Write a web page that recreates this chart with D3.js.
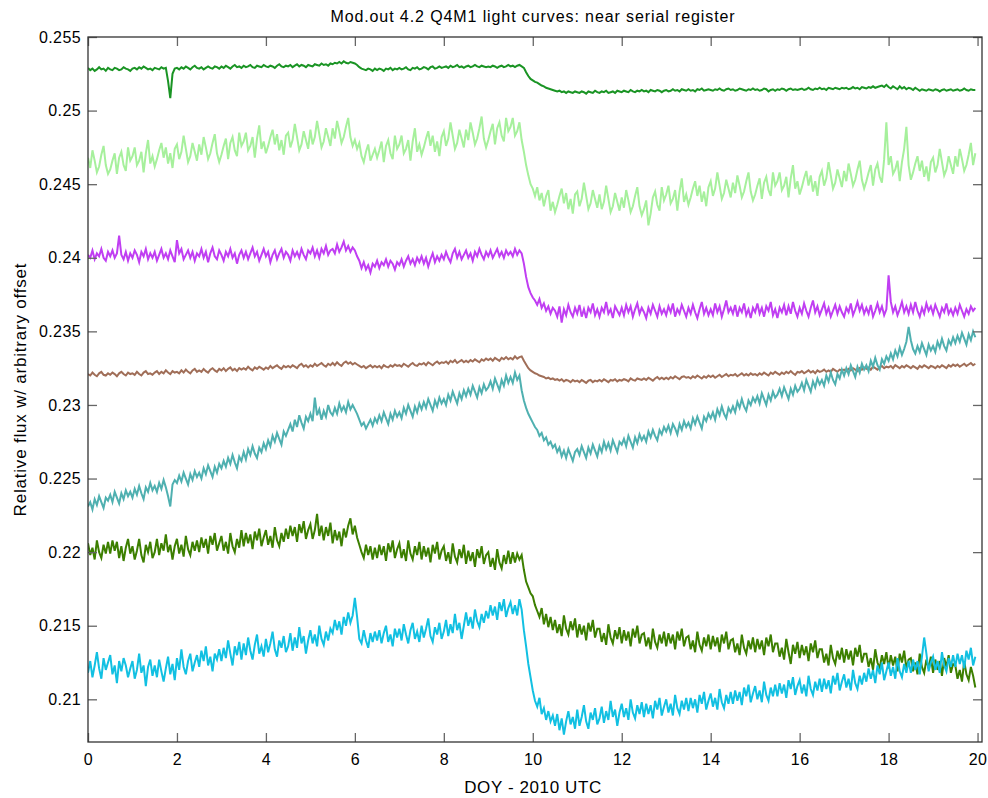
<!DOCTYPE html>
<html>
<head>
<meta charset="utf-8">
<script src="https://cdn.jsdelivr.net/npm/d3@7"></script>
<style>
  html, body { margin: 0; padding: 0; background: #fff; }
  svg { display: block; font-family: "Liberation Sans", Arial, sans-serif; }
</style>
</head>
<body>
<svg id="chart" width="988" height="798"></svg>
<script>
// Sample times, day of year 2010 (0.05-day cadence)
const doy = d3.range(400).map(i => i * 0.05);

const xTicks = [0, 2, 4, 6, 8, 10, 12, 14, 16, 18, 20];
const yTicks = [0.21, 0.215, 0.22, 0.225, 0.23, 0.235, 0.24, 0.245, 0.25, 0.255];
const yTickLabels = ["0.21", "0.215", "0.22", "0.225", "0.23", "0.235", "0.24", "0.245", "0.25", "0.255"];

const seriesColors = ["#1a9424", "#a6f09c", "#c03ef2", "#a06e58", "#4fb0b0", "#3c7f00", "#12c0e2"];

// Relative flux of each light curve, with arbitrary offsets (one row = half a day)
const fluxA = [
  0.25290,0.25275,0.25285,0.25270,0.25280,0.25295,0.25280,0.25285,0.25270,0.25290,
  0.25280,0.25275,0.25290,0.25285,0.25275,0.25280,0.25295,0.25285,0.25280,0.25270,
  0.25285,0.25290,0.25280,0.25295,0.25285,0.25300,0.25290,0.25280,0.25285,0.25275,
  0.25290,0.25285,0.25280,0.25295,0.25285,0.25290,0.25200,0.25085,0.25250,0.25285,
  0.25290,0.25280,0.25295,0.25285,0.25300,0.25290,0.25280,0.25295,0.25305,0.25290,
  0.25285,0.25295,0.25280,0.25290,0.25300,0.25290,0.25285,0.25300,0.25295,0.25285,
  0.25300,0.25290,0.25305,0.25295,0.25285,0.25300,0.25310,0.25295,0.25300,0.25290,
  0.25305,0.25295,0.25300,0.25310,0.25295,0.25290,0.25305,0.25300,0.25295,0.25310,
  0.25300,0.25295,0.25305,0.25300,0.25290,0.25305,0.25315,0.25300,0.25295,0.25305,
  0.25300,0.25310,0.25295,0.25305,0.25315,0.25300,0.25310,0.25305,0.25295,0.25310,
  0.25305,0.25300,0.25315,0.25310,0.25305,0.25320,0.25310,0.25315,0.25305,0.25320,
  0.25315,0.25325,0.25320,0.25330,0.25320,0.25335,0.25325,0.25320,0.25330,0.25325,
  0.25320,0.25310,0.25295,0.25285,0.25280,0.25275,0.25285,0.25280,0.25270,0.25285,
  0.25275,0.25285,0.25280,0.25270,0.25285,0.25280,0.25290,0.25275,0.25285,0.25280,
  0.25290,0.25280,0.25285,0.25295,0.25280,0.25275,0.25290,0.25285,0.25295,0.25280,
  0.25285,0.25295,0.25290,0.25280,0.25295,0.25300,0.25285,0.25290,0.25300,0.25290,
  0.25295,0.25300,0.25290,0.25305,0.25295,0.25300,0.25310,0.25295,0.25300,0.25290,
  0.25300,0.25305,0.25295,0.25300,0.25310,0.25300,0.25295,0.25305,0.25300,0.25295,
  0.25300,0.25295,0.25305,0.25300,0.25290,0.25300,0.25305,0.25295,0.25300,0.25310,
  0.25300,0.25305,0.25295,0.25305,0.25310,0.25300,0.25290,0.25260,0.25235,0.25215,
  0.25205,0.25195,0.25190,0.25180,0.25170,0.25165,0.25155,0.25150,0.25145,0.25140,
  0.25135,0.25130,0.25135,0.25125,0.25130,0.25120,0.25130,0.25125,0.25120,0.25130,
  0.25125,0.25120,0.25130,0.25125,0.25115,0.25130,0.25125,0.25120,0.25135,0.25125,
  0.25120,0.25130,0.25125,0.25135,0.25120,0.25125,0.25130,0.25120,0.25135,0.25130,
  0.25125,0.25135,0.25130,0.25125,0.25140,0.25130,0.25125,0.25135,0.25130,0.25140,
  0.25130,0.25135,0.25125,0.25140,0.25135,0.25130,0.25140,0.25135,0.25125,0.25135,
  0.25140,0.25130,0.25135,0.25145,0.25135,0.25140,0.25130,0.25145,0.25140,0.25135,
  0.25145,0.25135,0.25140,0.25130,0.25145,0.25140,0.25150,0.25135,0.25140,0.25145,
  0.25140,0.25135,0.25145,0.25140,0.25150,0.25140,0.25135,0.25145,0.25150,0.25140,
  0.25145,0.25135,0.25140,0.25150,0.25145,0.25140,0.25135,0.25145,0.25140,0.25150,
  0.25140,0.25145,0.25135,0.25140,0.25150,0.25145,0.25130,0.25140,0.25145,0.25135,
  0.25145,0.25140,0.25150,0.25145,0.25135,0.25145,0.25150,0.25140,0.25145,0.25140,
  0.25145,0.25150,0.25140,0.25145,0.25155,0.25145,0.25140,0.25150,0.25145,0.25155,
  0.25145,0.25150,0.25140,0.25155,0.25150,0.25145,0.25155,0.25150,0.25145,0.25155,
  0.25150,0.25155,0.25145,0.25150,0.25160,0.25150,0.25155,0.25145,0.25160,0.25155,
  0.25150,0.25160,0.25155,0.25165,0.25155,0.25160,0.25165,0.25170,0.25160,0.25175,
  0.25160,0.25150,0.25165,0.25155,0.25145,0.25165,0.25150,0.25160,0.25145,0.25155,
  0.25150,0.25140,0.25155,0.25145,0.25135,0.25145,0.25140,0.25135,0.25145,0.25140,
  0.25135,0.25145,0.25140,0.25130,0.25140,0.25145,0.25135,0.25140,0.25145,0.25135,
  0.25140,0.25145,0.25135,0.25140,0.25150,0.25140,0.25135,0.25145,0.25140,0.25140
];

const fluxB = [
  0.24680,0.24610,0.24730,0.24660,0.24580,0.24620,0.24700,0.24760,0.24630,0.24570,
  0.24600,0.24660,0.24710,0.24570,0.24680,0.24720,0.24630,0.24590,0.24750,0.24660,
  0.24690,0.24750,0.24630,0.24660,0.24720,0.24580,0.24710,0.24800,0.24640,0.24690,
  0.24620,0.24670,0.24730,0.24780,0.24680,0.24750,0.24640,0.24710,0.24610,0.24740,
  0.24770,0.24670,0.24720,0.24830,0.24740,0.24650,0.24690,0.24780,0.24720,0.24660,
  0.24770,0.24700,0.24820,0.24750,0.24670,0.24710,0.24780,0.24840,0.24710,0.24650,
  0.24700,0.24760,0.24810,0.24670,0.24780,0.24820,0.24730,0.24690,0.24850,0.24760,
  0.24790,0.24850,0.24730,0.24760,0.24820,0.24680,0.24810,0.24900,0.24740,0.24790,
  0.24710,0.24760,0.24820,0.24870,0.24770,0.24840,0.24730,0.24800,0.24700,0.24830,
  0.24850,0.24750,0.24800,0.24910,0.24820,0.24730,0.24770,0.24860,0.24800,0.24740,
  0.24870,0.24770,0.24820,0.24930,0.24840,0.24750,0.24790,0.24880,0.24820,0.24760,
  0.24880,0.24810,0.24930,0.24860,0.24780,0.24820,0.24890,0.24950,0.24820,0.24760,
  0.24800,0.24740,0.24780,0.24690,0.24650,0.24720,0.24770,0.24660,0.24700,0.24740,
  0.24680,0.24730,0.24790,0.24650,0.24760,0.24800,0.24710,0.24670,0.24830,0.24740,
  0.24770,0.24830,0.24710,0.24740,0.24800,0.24660,0.24790,0.24880,0.24720,0.24770,
  0.24700,0.24750,0.24810,0.24860,0.24760,0.24830,0.24720,0.24790,0.24690,0.24820,
  0.24860,0.24760,0.24810,0.24920,0.24830,0.24740,0.24780,0.24870,0.24810,0.24750,
  0.24870,0.24800,0.24920,0.24850,0.24770,0.24810,0.24880,0.24960,0.24810,0.24750,
  0.24800,0.24860,0.24910,0.24770,0.24880,0.24920,0.24830,0.24790,0.24950,0.24860,
  0.24890,0.24950,0.24830,0.24860,0.24920,0.24800,0.24720,0.24630,0.24560,0.24500,
  0.24470,0.24420,0.24480,0.24390,0.24440,0.24350,0.24420,0.24460,0.24320,0.24380,
  0.24310,0.24360,0.24420,0.24470,0.24370,0.24440,0.24330,0.24400,0.24300,0.24430,
  0.24450,0.24350,0.24400,0.24510,0.24420,0.24330,0.24370,0.24460,0.24400,0.24340,
  0.24430,0.24330,0.24380,0.24490,0.24400,0.24310,0.24350,0.24440,0.24380,0.24320,
  0.24410,0.24340,0.24460,0.24390,0.24310,0.24350,0.24420,0.24480,0.24350,0.24290,
  0.24330,0.24390,0.24220,0.24300,0.24410,0.24450,0.24360,0.24320,0.24480,0.24390,
  0.24430,0.24490,0.24370,0.24400,0.24460,0.24320,0.24450,0.24540,0.24380,0.24430,
  0.24360,0.24410,0.24470,0.24520,0.24420,0.24490,0.24380,0.24450,0.24350,0.24480,
  0.24520,0.24420,0.24470,0.24580,0.24490,0.24400,0.24440,0.24530,0.24470,0.24410,
  0.24510,0.24440,0.24560,0.24490,0.24410,0.24450,0.24520,0.24580,0.24450,0.24390,
  0.24430,0.24490,0.24540,0.24400,0.24510,0.24550,0.24460,0.24420,0.24580,0.24490,
  0.24520,0.24580,0.24460,0.24490,0.24550,0.24410,0.24540,0.24630,0.24470,0.24520,
  0.24430,0.24480,0.24540,0.24590,0.24490,0.24560,0.24450,0.24520,0.24420,0.24550,
  0.24590,0.24490,0.24540,0.24650,0.24560,0.24470,0.24510,0.24600,0.24540,0.24480,
  0.24590,0.24520,0.24640,0.24570,0.24490,0.24530,0.24600,0.24660,0.24530,0.24470,
  0.24520,0.24580,0.24630,0.24490,0.24600,0.24640,0.24550,0.24510,0.24670,0.24920,
  0.24630,0.24690,0.24570,0.24600,0.24660,0.24520,0.24650,0.24740,0.24890,0.24630,
  0.24530,0.24580,0.24640,0.24690,0.24590,0.24660,0.24550,0.24620,0.24520,0.24650,
  0.24680,0.24580,0.24630,0.24740,0.24650,0.24560,0.24600,0.24690,0.24630,0.24570,
  0.24690,0.24620,0.24740,0.24670,0.24590,0.24630,0.24700,0.24780,0.24630,0.24710
];

const fluxC = [
  0.24020,0.24000,0.24050,0.23990,0.24030,0.24010,0.24060,0.24000,0.23980,0.24040,
  0.24010,0.24050,0.24000,0.24030,0.24150,0.24020,0.23990,0.24040,0.23980,0.24030,
  0.24000,0.24050,0.24020,0.23970,0.24040,0.24010,0.24060,0.23990,0.24030,0.24000,
  0.24040,0.23980,0.24020,0.24060,0.24000,0.24030,0.23990,0.24050,0.24010,0.23970,
  0.24120,0.24030,0.24060,0.23990,0.24020,0.24050,0.24000,0.24040,0.23980,0.24030,
  0.24010,0.24060,0.24000,0.24040,0.23970,0.24030,0.24070,0.24010,0.23990,0.24050,
  0.24020,0.23980,0.24040,0.24010,0.24060,0.24000,0.24030,0.23960,0.24020,0.24050,
  0.24000,0.24040,0.23990,0.24030,0.24070,0.24010,0.24040,0.23980,0.24020,0.24060,
  0.24010,0.24040,0.23970,0.24020,0.24050,0.23990,0.24030,0.24060,0.24000,0.24040,
  0.24020,0.23980,0.24050,0.24010,0.24040,0.24000,0.24060,0.24020,0.23990,0.24050,
  0.24030,0.24070,0.24010,0.24050,0.24000,0.24060,0.24030,0.24080,0.24020,0.24050,
  0.24060,0.24030,0.24090,0.24040,0.24070,0.24110,0.24050,0.24080,0.24040,0.24070,
  0.24050,0.24010,0.23980,0.23930,0.23970,0.23920,0.23950,0.23900,0.23960,0.23940,
  0.23980,0.23930,0.23970,0.23950,0.23990,0.23940,0.23980,0.23960,0.23920,0.23970,
  0.23950,0.23990,0.23940,0.23980,0.24010,0.23960,0.23990,0.23950,0.24000,0.23970,
  0.24010,0.23960,0.24000,0.23940,0.23990,0.24030,0.23970,0.24010,0.23980,0.24020,
  0.23990,0.24040,0.24000,0.23970,0.24030,0.24060,0.24000,0.24040,0.23990,0.24020,
  0.24050,0.24000,0.24030,0.23980,0.24040,0.24010,0.24060,0.24020,0.23990,0.24040,
  0.24010,0.24050,0.24000,0.24030,0.24060,0.24010,0.24040,0.24000,0.24050,0.24020,
  0.24040,0.24010,0.24060,0.24020,0.24050,0.24030,0.23960,0.23870,0.23800,0.23760,
  0.23730,0.23710,0.23680,0.23720,0.23660,0.23690,0.23640,0.23670,0.23620,0.23660,
  0.23640,0.23600,0.23670,0.23560,0.23650,0.23610,0.23680,0.23630,0.23600,0.23660,
  0.23620,0.23680,0.23600,0.23650,0.23590,0.23660,0.23630,0.23690,0.23610,0.23650,
  0.23600,0.23660,0.23630,0.23700,0.23620,0.23650,0.23590,0.23670,0.23640,0.23610,
  0.23660,0.23610,0.23680,0.23630,0.23670,0.23600,0.23650,0.23690,0.23620,0.23660,
  0.23630,0.23590,0.23660,0.23620,0.23680,0.23640,0.23600,0.23670,0.23620,0.23650,
  0.23610,0.23670,0.23630,0.23690,0.23600,0.23650,0.23620,0.23680,0.23640,0.23600,
  0.23660,0.23620,0.23680,0.23630,0.23590,0.23650,0.23700,0.23620,0.23660,0.23610,
  0.23650,0.23610,0.23690,0.23630,0.23670,0.23600,0.23650,0.23710,0.23630,0.23660,
  0.23620,0.23680,0.23600,0.23660,0.23630,0.23690,0.23610,0.23650,0.23590,0.23660,
  0.23630,0.23690,0.23620,0.23660,0.23600,0.23670,0.23640,0.23700,0.23610,0.23650,
  0.23590,0.23660,0.23630,0.23680,0.23610,0.23670,0.23620,0.23700,0.23640,0.23600,
  0.23660,0.23620,0.23690,0.23640,0.23600,0.23660,0.23710,0.23630,0.23670,0.23610,
  0.23650,0.23690,0.23620,0.23660,0.23600,0.23640,0.23680,0.23620,0.23670,0.23630,
  0.23600,0.23660,0.23630,0.23690,0.23610,0.23650,0.23700,0.23640,0.23680,0.23620,
  0.23660,0.23620,0.23680,0.23600,0.23640,0.23690,0.23630,0.23670,0.23610,0.23650,
  0.23880,0.23700,0.23630,0.23670,0.23610,0.23650,0.23700,0.23630,0.23670,0.23620,
  0.23680,0.23630,0.23700,0.23640,0.23600,0.23660,0.23620,0.23690,0.23640,0.23670,
  0.23620,0.23680,0.23640,0.23600,0.23660,0.23630,0.23690,0.23620,0.23650,0.23610,
  0.23660,0.23620,0.23680,0.23640,0.23600,0.23650,0.23620,0.23670,0.23640,0.23660
];

const fluxD = [
  0.23210,0.23200,0.23220,0.23205,0.23195,0.23215,0.23225,0.23205,0.23200,0.23215,
  0.23205,0.23220,0.23210,0.23195,0.23215,0.23225,0.23210,0.23200,0.23220,0.23210,
  0.23215,0.23205,0.23225,0.23210,0.23200,0.23220,0.23230,0.23210,0.23215,0.23205,
  0.23220,0.23230,0.23210,0.23225,0.23215,0.23235,0.23220,0.23210,0.23230,0.23220,
  0.23225,0.23215,0.23235,0.23220,0.23240,0.23225,0.23215,0.23235,0.23245,0.23225,
  0.23235,0.23225,0.23245,0.23230,0.23220,0.23240,0.23250,0.23235,0.23225,0.23245,
  0.23235,0.23250,0.23230,0.23245,0.23255,0.23235,0.23245,0.23230,0.23250,0.23240,
  0.23250,0.23240,0.23260,0.23245,0.23235,0.23255,0.23245,0.23260,0.23250,0.23240,
  0.23255,0.23245,0.23265,0.23250,0.23260,0.23270,0.23255,0.23245,0.23265,0.23255,
  0.23265,0.23255,0.23270,0.23260,0.23250,0.23270,0.23280,0.23260,0.23270,0.23255,
  0.23270,0.23260,0.23280,0.23265,0.23275,0.23285,0.23270,0.23260,0.23280,0.23270,
  0.23285,0.23270,0.23290,0.23275,0.23265,0.23285,0.23295,0.23280,0.23290,0.23275,
  0.23285,0.23275,0.23265,0.23255,0.23265,0.23250,0.23260,0.23270,0.23255,0.23265,
  0.23255,0.23265,0.23250,0.23270,0.23260,0.23255,0.23270,0.23260,0.23275,0.23265,
  0.23270,0.23260,0.23280,0.23270,0.23260,0.23275,0.23285,0.23270,0.23265,0.23280,
  0.23275,0.23285,0.23270,0.23290,0.23280,0.23270,0.23285,0.23295,0.23280,0.23290,
  0.23285,0.23295,0.23280,0.23300,0.23290,0.23305,0.23285,0.23295,0.23305,0.23290,
  0.23300,0.23290,0.23305,0.23295,0.23310,0.23300,0.23290,0.23310,0.23300,0.23315,
  0.23305,0.23315,0.23300,0.23320,0.23310,0.23300,0.23320,0.23310,0.23325,0.23310,
  0.23320,0.23310,0.23330,0.23315,0.23325,0.23330,0.23300,0.23275,0.23250,0.23235,
  0.23225,0.23215,0.23210,0.23200,0.23195,0.23190,0.23180,0.23185,0.23175,0.23180,
  0.23170,0.23175,0.23165,0.23175,0.23160,0.23170,0.23165,0.23155,0.23170,0.23160,
  0.23165,0.23155,0.23170,0.23160,0.23150,0.23165,0.23170,0.23155,0.23165,0.23160,
  0.23170,0.23160,0.23175,0.23165,0.23155,0.23170,0.23165,0.23175,0.23160,0.23170,
  0.23165,0.23175,0.23170,0.23160,0.23180,0.23170,0.23165,0.23180,0.23175,0.23170,
  0.23180,0.23170,0.23185,0.23175,0.23165,0.23180,0.23190,0.23175,0.23185,0.23175,
  0.23185,0.23175,0.23190,0.23180,0.23195,0.23185,0.23175,0.23190,0.23195,0.23185,
  0.23190,0.23180,0.23195,0.23185,0.23200,0.23190,0.23180,0.23195,0.23185,0.23200,
  0.23190,0.23200,0.23185,0.23195,0.23205,0.23190,0.23200,0.23210,0.23195,0.23205,
  0.23200,0.23210,0.23195,0.23205,0.23215,0.23200,0.23210,0.23200,0.23215,0.23205,
  0.23210,0.23200,0.23215,0.23205,0.23220,0.23210,0.23200,0.23220,0.23210,0.23225,
  0.23215,0.23205,0.23220,0.23210,0.23225,0.23215,0.23230,0.23215,0.23205,0.23225,
  0.23220,0.23230,0.23215,0.23225,0.23235,0.23220,0.23230,0.23215,0.23235,0.23225,
  0.23230,0.23240,0.23225,0.23235,0.23225,0.23245,0.23235,0.23225,0.23240,0.23235,
  0.23240,0.23230,0.23245,0.23235,0.23250,0.23240,0.23230,0.23250,0.23240,0.23255,
  0.23245,0.23255,0.23240,0.23260,0.23250,0.23240,0.23255,0.23265,0.23250,0.23260,
  0.23255,0.23265,0.23250,0.23270,0.23260,0.23250,0.23265,0.23255,0.23270,0.23260,
  0.23250,0.23265,0.23255,0.23245,0.23265,0.23255,0.23270,0.23260,0.23250,0.23265,
  0.23260,0.23250,0.23265,0.23255,0.23270,0.23260,0.23250,0.23270,0.23260,0.23275,
  0.23265,0.23275,0.23260,0.23270,0.23280,0.23265,0.23275,0.23285,0.23270,0.23280
];

const fluxE = [
  0.22310,0.22340,0.22290,0.22360,0.22320,0.22380,0.22340,0.22300,0.22370,0.22350,
  0.22390,0.22340,0.22410,0.22370,0.22330,0.22400,0.22360,0.22420,0.22380,0.22410,
  0.22370,0.22430,0.22390,0.22450,0.22400,0.22360,0.22440,0.22410,0.22470,0.22420,
  0.22450,0.22410,0.22470,0.22430,0.22490,0.22440,0.22380,0.22310,0.22460,0.22490,
  0.22470,0.22520,0.22480,0.22540,0.22500,0.22460,0.22530,0.22490,0.22550,0.22510,
  0.22540,0.22500,0.22570,0.22530,0.22590,0.22550,0.22510,0.22580,0.22540,0.22600,
  0.22570,0.22620,0.22580,0.22640,0.22600,0.22660,0.22610,0.22570,0.22650,0.22620,
  0.22680,0.22630,0.22700,0.22660,0.22720,0.22670,0.22640,0.22710,0.22680,0.22740,
  0.22700,0.22760,0.22720,0.22790,0.22750,0.22810,0.22770,0.22730,0.22820,0.22790,
  0.22830,0.22870,0.22820,0.22900,0.22850,0.22930,0.22880,0.22840,0.22920,0.22890,
  0.22940,0.22890,0.23050,0.22930,0.22970,0.22900,0.22960,0.22920,0.23000,0.22950,
  0.22930,0.22980,0.22940,0.23010,0.22960,0.22990,0.22950,0.23020,0.22970,0.23000,
  0.22970,0.22940,0.22900,0.22860,0.22880,0.22840,0.22870,0.22900,0.22860,0.22910,
  0.22880,0.22930,0.22890,0.22950,0.22910,0.22870,0.22940,0.22900,0.22960,0.22920,
  0.22950,0.22910,0.22980,0.22940,0.23000,0.22960,0.22920,0.22990,0.22950,0.23010,
  0.22970,0.23020,0.22980,0.23040,0.23000,0.22960,0.23030,0.22990,0.23050,0.23010,
  0.23040,0.23000,0.23070,0.23030,0.23090,0.23050,0.23010,0.23080,0.23040,0.23100,
  0.23060,0.23110,0.23070,0.23130,0.23090,0.23050,0.23120,0.23080,0.23140,0.23100,
  0.23120,0.23160,0.23110,0.23180,0.23140,0.23100,0.23170,0.23130,0.23200,0.23150,
  0.23190,0.23150,0.23220,0.23170,0.23200,0.23100,0.23030,0.22980,0.22940,0.22910,
  0.22880,0.22850,0.22830,0.22790,0.22810,0.22760,0.22780,0.22730,0.22750,0.22710,
  0.22730,0.22680,0.22710,0.22650,0.22690,0.22640,0.22700,0.22660,0.22620,0.22680,
  0.22700,0.22660,0.22720,0.22680,0.22640,0.22710,0.22670,0.22730,0.22690,0.22650,
  0.22720,0.22680,0.22750,0.22700,0.22740,0.22690,0.22760,0.22720,0.22680,0.22750,
  0.22730,0.22770,0.22720,0.22790,0.22750,0.22710,0.22780,0.22740,0.22800,0.22760,
  0.22790,0.22750,0.22820,0.22780,0.22830,0.22790,0.22760,0.22830,0.22800,0.22850,
  0.22820,0.22860,0.22810,0.22870,0.22840,0.22800,0.22870,0.22830,0.22890,0.22850,
  0.22880,0.22840,0.22910,0.22870,0.22920,0.22880,0.22840,0.22920,0.22890,0.22940,
  0.22910,0.22950,0.22900,0.22970,0.22930,0.22990,0.22940,0.22910,0.22980,0.22950,
  0.22990,0.22950,0.23020,0.22980,0.23040,0.22990,0.22960,0.23030,0.23000,0.23050,
  0.23020,0.23060,0.23010,0.23080,0.23040,0.23000,0.23070,0.23030,0.23090,0.23050,
  0.23070,0.23110,0.23060,0.23120,0.23080,0.23040,0.23110,0.23070,0.23130,0.23090,
  0.23110,0.23150,0.23100,0.23170,0.23130,0.23090,0.23160,0.23120,0.23180,0.23140,
  0.23170,0.23130,0.23200,0.23160,0.23220,0.23170,0.23140,0.23210,0.23180,0.23240,
  0.23200,0.23250,0.23210,0.23270,0.23230,0.23190,0.23260,0.23220,0.23280,0.23240,
  0.23270,0.23230,0.23300,0.23260,0.23320,0.23270,0.23240,0.23310,0.23280,0.23330,
  0.23300,0.23350,0.23310,0.23370,0.23330,0.23390,0.23340,0.23380,0.23430,0.23530,
  0.23440,0.23380,0.23350,0.23400,0.23360,0.23420,0.23380,0.23340,0.23410,0.23370,
  0.23400,0.23360,0.23430,0.23390,0.23450,0.23400,0.23370,0.23440,0.23410,0.23460,
  0.23420,0.23470,0.23430,0.23490,0.23450,0.23410,0.23480,0.23440,0.23500,0.23460
];

const fluxF = [
  0.22060,0.21980,0.22030,0.21950,0.22080,0.22000,0.21960,0.22050,0.21990,0.22070,
  0.21990,0.22080,0.22010,0.22070,0.21960,0.22040,0.21940,0.22030,0.22090,0.21990,
  0.22040,0.21950,0.22010,0.22090,0.21980,0.21930,0.22050,0.22000,0.22070,0.21960,
  0.22000,0.22090,0.21980,0.22060,0.22010,0.22120,0.22000,0.22050,0.21950,0.22040,
  0.22090,0.21990,0.22050,0.21970,0.22110,0.22020,0.21980,0.22070,0.22010,0.22080,
  0.22000,0.22100,0.22030,0.22090,0.21990,0.22110,0.22050,0.22130,0.22010,0.22060,
  0.22110,0.22010,0.22070,0.21990,0.22130,0.22040,0.22000,0.22090,0.22030,0.22150,
  0.22040,0.22130,0.22060,0.22120,0.22020,0.22140,0.22080,0.22160,0.22040,0.22100,
  0.22150,0.22050,0.22110,0.22030,0.22170,0.22080,0.22040,0.22130,0.22070,0.22160,
  0.22090,0.22180,0.22110,0.22170,0.22070,0.22190,0.22130,0.22210,0.22090,0.22150,
  0.22190,0.22090,0.22150,0.22260,0.22110,0.22180,0.22080,0.22170,0.22110,0.22200,
  0.22060,0.22150,0.22080,0.22140,0.22040,0.22160,0.22100,0.22180,0.22230,0.22120,
  0.22180,0.22100,0.22050,0.22000,0.21960,0.22050,0.21980,0.22040,0.21950,0.22030,
  0.21960,0.22050,0.21980,0.22040,0.21940,0.22060,0.22000,0.22080,0.21960,0.22020,
  0.22060,0.21960,0.22020,0.21940,0.22080,0.21990,0.21950,0.22040,0.21980,0.22070,
  0.21950,0.22040,0.21970,0.22030,0.21930,0.22050,0.21990,0.22070,0.21950,0.22010,
  0.22040,0.21940,0.22000,0.21920,0.22060,0.21970,0.21930,0.22020,0.21960,0.22050,
  0.21920,0.22010,0.21940,0.22000,0.21900,0.22020,0.21960,0.22040,0.21920,0.21980,
  0.22000,0.21900,0.21960,0.21880,0.22020,0.21930,0.21890,0.21980,0.21920,0.22010,
  0.21920,0.22000,0.21930,0.21990,0.21950,0.21980,0.21880,0.21800,0.21760,0.21720,
  0.21700,0.21640,0.21600,0.21560,0.21620,0.21510,0.21580,0.21490,0.21560,0.21470,
  0.21540,0.21450,0.21510,0.21430,0.21570,0.21480,0.21440,0.21530,0.21470,0.21550,
  0.21420,0.21510,0.21440,0.21500,0.21400,0.21520,0.21460,0.21540,0.21420,0.21480,
  0.21480,0.21390,0.21450,0.21370,0.21510,0.21420,0.21380,0.21470,0.21410,0.21490,
  0.21380,0.21470,0.21400,0.21460,0.21360,0.21480,0.21420,0.21500,0.21380,0.21440,
  0.21450,0.21360,0.21420,0.21340,0.21480,0.21390,0.21350,0.21440,0.21380,0.21460,
  0.21360,0.21450,0.21380,0.21440,0.21340,0.21460,0.21400,0.21480,0.21360,0.21420,
  0.21430,0.21340,0.21400,0.21320,0.21460,0.21370,0.21330,0.21420,0.21360,0.21440,
  0.21340,0.21430,0.21360,0.21420,0.21320,0.21440,0.21380,0.21460,0.21340,0.21400,
  0.21410,0.21320,0.21380,0.21300,0.21440,0.21350,0.21310,0.21400,0.21340,0.21420,
  0.21320,0.21410,0.21340,0.21400,0.21300,0.21420,0.21360,0.21440,0.21320,0.21380,
  0.21380,0.21290,0.21350,0.21270,0.21410,0.21320,0.21240,0.21370,0.21310,0.21390,
  0.21280,0.21370,0.21300,0.21360,0.21260,0.21380,0.21320,0.21400,0.21280,0.21340,
  0.21340,0.21250,0.21310,0.21230,0.21370,0.21280,0.21240,0.21330,0.21270,0.21350,
  0.21250,0.21340,0.21270,0.21330,0.21230,0.21350,0.21290,0.21370,0.21250,0.21310,
  0.21310,0.21220,0.21280,0.21200,0.21340,0.21250,0.21210,0.21300,0.21240,0.21320,
  0.21210,0.21300,0.21230,0.21290,0.21190,0.21310,0.21250,0.21330,0.21210,0.21270,
  0.21280,0.21190,0.21250,0.21170,0.21310,0.21220,0.21180,0.21270,0.21210,0.21290,
  0.21180,0.21270,0.21200,0.21260,0.21160,0.21280,0.21220,0.21300,0.21180,0.21240,
  0.21230,0.21140,0.21200,0.21120,0.21260,0.21170,0.21130,0.21220,0.21160,0.21080
];

const fluxG = [
  0.21180,0.21260,0.21150,0.21230,0.21320,0.21210,0.21140,0.21280,0.21200,0.21250,
  0.21300,0.21170,0.21230,0.21110,0.21260,0.21190,0.21280,0.21230,0.21150,0.21210,
  0.21260,0.21140,0.21200,0.21310,0.21180,0.21230,0.21090,0.21220,0.21270,0.21160,
  0.21230,0.21150,0.21270,0.21190,0.21120,0.21210,0.21290,0.21170,0.21240,0.21130,
  0.21280,0.21200,0.21340,0.21220,0.21170,0.21260,0.21310,0.21190,0.21250,0.21300,
  0.21220,0.21330,0.21260,0.21360,0.21230,0.21290,0.21190,0.21310,0.21270,0.21340,
  0.21260,0.21350,0.21280,0.21400,0.21310,0.21230,0.21360,0.21300,0.21390,0.21270,
  0.21380,0.21300,0.21420,0.21330,0.21270,0.21370,0.21440,0.21310,0.21360,0.21290,
  0.21410,0.21320,0.21380,0.21460,0.21340,0.21290,0.21400,0.21350,0.21430,0.21320,
  0.21360,0.21450,0.21330,0.21420,0.21350,0.21490,0.21380,0.21430,0.21310,0.21400,
  0.21470,0.21380,0.21440,0.21360,0.21500,0.21410,0.21370,0.21460,0.21400,0.21480,
  0.21450,0.21540,0.21470,0.21530,0.21440,0.21560,0.21500,0.21590,0.21520,0.21570,
  0.21690,0.21560,0.21410,0.21380,0.21470,0.21400,0.21350,0.21450,0.21390,0.21460,
  0.21400,0.21470,0.21380,0.21450,0.21500,0.21390,0.21440,0.21360,0.21480,0.21420,
  0.21480,0.21400,0.21510,0.21440,0.21380,0.21470,0.21520,0.21410,0.21460,0.21390,
  0.21500,0.21420,0.21480,0.21550,0.21430,0.21390,0.21490,0.21440,0.21520,0.21410,
  0.21460,0.21540,0.21430,0.21510,0.21450,0.21580,0.21470,0.21520,0.21410,0.21500,
  0.21590,0.21500,0.21560,0.21480,0.21610,0.21530,0.21490,0.21580,0.21520,0.21600,
  0.21550,0.21640,0.21570,0.21630,0.21540,0.21660,0.21600,0.21680,0.21560,0.21620,
  0.21660,0.21580,0.21640,0.21570,0.21680,0.21610,0.21470,0.21360,0.21240,0.21150,
  0.21060,0.20990,0.20950,0.21010,0.20900,0.20940,0.20860,0.20920,0.20850,0.20890,
  0.20820,0.20900,0.20790,0.20870,0.20760,0.20850,0.20920,0.20830,0.20880,0.20800,
  0.20930,0.20820,0.20880,0.20960,0.20850,0.20800,0.20910,0.20860,0.20940,0.20830,
  0.20870,0.20950,0.20840,0.20920,0.20860,0.20990,0.20880,0.20930,0.20820,0.20910,
  0.20970,0.20880,0.20940,0.20860,0.21000,0.20910,0.20870,0.20960,0.20900,0.20980,
  0.20880,0.20970,0.20900,0.20960,0.20870,0.20990,0.20930,0.21010,0.20890,0.20950,
  0.21000,0.20910,0.20970,0.20890,0.21030,0.20940,0.20900,0.20990,0.20930,0.21010,
  0.20920,0.21010,0.20940,0.21000,0.20910,0.21030,0.20970,0.21050,0.20930,0.20990,
  0.21040,0.20950,0.21010,0.20930,0.21070,0.20980,0.20940,0.21030,0.20970,0.21050,
  0.20970,0.21060,0.20990,0.21050,0.20960,0.21080,0.21020,0.21100,0.20980,0.21040,
  0.21090,0.21000,0.21060,0.20980,0.21120,0.21030,0.20990,0.21080,0.21020,0.21100,
  0.21020,0.21110,0.21040,0.21100,0.21010,0.21130,0.21070,0.21150,0.21030,0.21090,
  0.21130,0.21040,0.21100,0.21020,0.21160,0.21070,0.21030,0.21120,0.21060,0.21140,
  0.21050,0.21140,0.21070,0.21130,0.21040,0.21160,0.21100,0.21180,0.21060,0.21120,
  0.21170,0.21080,0.21140,0.21060,0.21200,0.21110,0.21070,0.21160,0.21100,0.21180,
  0.21120,0.21210,0.21140,0.21200,0.21110,0.21230,0.21170,0.21250,0.21130,0.21190,
  0.21250,0.21160,0.21220,0.21140,0.21280,0.21190,0.21150,0.21240,0.21180,0.21260,
  0.21180,0.21270,0.21200,0.21260,0.21170,0.21290,0.21420,0.21310,0.21190,0.21250,
  0.21290,0.21200,0.21260,0.21180,0.21320,0.21230,0.21190,0.21280,0.21220,0.21300,
  0.21220,0.21310,0.21240,0.21300,0.21210,0.21330,0.21270,0.21350,0.21230,0.21290
];

const allSeries = [fluxA, fluxB, fluxC, fluxD, fluxE, fluxF, fluxG];

const svg = d3.select("#chart");
const margin = { left: 88, top: 37, right: 6, bottom: 56 };
const W = 988, H = 798;

const x = d3.scaleLinear().domain([0, 20.1]).range([margin.left, W - margin.right]);
const y = d3.scaleLinear().domain([0.2071, 0.255]).range([H - margin.bottom, margin.top]);

// Light curves, clipped to the plot frame
svg.append("clipPath").attr("id", "plotClip")
  .append("rect")
  .attr("x", x.range()[0]).attr("y", y.range()[1])
  .attr("width", x.range()[1] - x.range()[0])
  .attr("height", y.range()[0] - y.range()[1]);

const line = d3.line().x((d, i) => x(doy[i])).y(d => y(d));

svg.append("g").attr("clip-path", "url(#plotClip)")
  .selectAll("path")
  .data(allSeries)
  .join("path")
  .attr("fill", "none")
  .attr("stroke", (d, i) => seriesColors[i])
  .attr("stroke-width", 2)
  .attr("stroke-linejoin", "miter")
  .attr("d", line);

// Axes with inward ticks on all four sides
const tickLen = 9;
const fmtY = d => yTickLabels[yTicks.indexOf(d)];

const axisStyle = g => {
  g.select(".domain").remove();
  g.selectAll(".tick line").attr("stroke", "#666").attr("stroke-width", 1.3);
  g.selectAll(".tick text").attr("fill", "#000").attr("font-size", 16).attr("letter-spacing", 0.4);
};

svg.append("g")
  .attr("transform", `translate(0,${y.range()[0]})`)
  .call(d3.axisBottom(x).tickValues(xTicks).tickSizeInner(-tickLen).tickSizeOuter(0).tickPadding(12).tickFormat(d3.format("d")))
  .call(axisStyle);

svg.append("g")
  .attr("transform", `translate(0,${y.range()[1]})`)
  .call(d3.axisTop(x).tickValues(xTicks).tickSizeInner(-tickLen).tickSizeOuter(0).tickFormat(""))
  .call(axisStyle);

svg.append("g")
  .attr("transform", `translate(${x.range()[0]},0)`)
  .call(d3.axisLeft(y).tickValues(yTicks).tickSizeInner(-tickLen).tickSizeOuter(0).tickPadding(7).tickFormat(fmtY))
  .call(axisStyle);

svg.append("g")
  .attr("transform", `translate(${x.range()[1]},0)`)
  .call(d3.axisRight(y).tickValues(yTicks).tickSizeInner(-tickLen).tickSizeOuter(0).tickFormat(""))
  .call(axisStyle);

// Plot frame
svg.append("rect")
  .attr("x", x.range()[0]).attr("y", y.range()[1])
  .attr("width", x.range()[1] - x.range()[0])
  .attr("height", y.range()[0] - y.range()[1])
  .attr("fill", "none").attr("stroke", "#333").attr("stroke-width", 1.3);

// Titles
svg.append("text")
  .attr("x", 533).attr("y", 22)
  .attr("text-anchor", "middle").attr("font-size", 16).attr("letter-spacing", 0.9)
  .text("Mod.out 4.2 Q4M1 light curves: near serial register");

svg.append("text")
  .attr("x", 533).attr("y", 793)
  .attr("text-anchor", "middle").attr("font-size", 17).attr("letter-spacing", 0.6)
  .text("DOY - 2010 UTC");

svg.append("text")
  .attr("transform", `translate(26,${(y.range()[0] + y.range()[1]) / 2}) rotate(-90)`)
  .attr("text-anchor", "middle").attr("font-size", 17).attr("letter-spacing", 0.8)
  .text("Relative flux w/ arbitrary offset");
</script>
</body>
</html>
